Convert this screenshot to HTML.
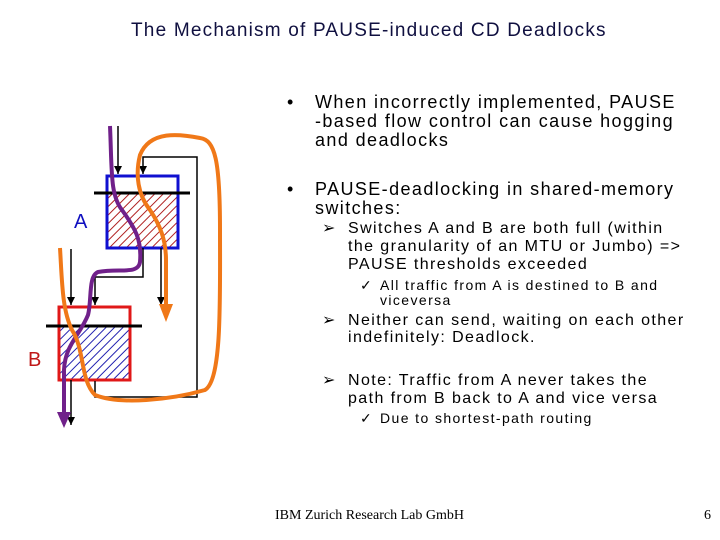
<!DOCTYPE html>
<html><head><style>
body{margin:0;width:720px;height:540px;background:#fff;position:relative;overflow:hidden;font-family:"Liberation Sans",sans-serif;}
.t{position:absolute;white-space:nowrap;color:#000;line-height:1;letter-spacing:1.4px;}
</style></head><body>
<div class="t" style="left:131px;top:21px;font-size:19px;color:#101040;letter-spacing:1.2px;">The Mechanism of PAUSE-induced CD Deadlocks</div>

<div class="t" style="left:287px;top:93px;font-size:18px;">•</div>
<div class="t" style="left:315px;top:93px;font-size:18px;">When incorrectly implemented, PAUSE</div>
<div class="t" style="left:315px;top:112px;font-size:18px;">-based flow control can cause hogging</div>
<div class="t" style="left:315px;top:131px;font-size:18px;">and deadlocks</div>

<div class="t" style="left:287px;top:180px;font-size:18px;">•</div>
<div class="t" style="left:315px;top:180px;font-size:18px;">PAUSE-deadlocking in shared-memory</div>
<div class="t" style="left:315px;top:199px;font-size:18px;">switches:</div>

<div class="t" style="left:322px;top:221px;font-size:16px;">➢</div>
<div class="t" style="left:348px;top:221px;font-size:16px;">Switches A and B are both full (within</div>
<div class="t" style="left:348px;top:239px;font-size:16px;">the granularity of an MTU or Jumbo) =&gt;</div>
<div class="t" style="left:348px;top:257px;font-size:16px;">PAUSE thresholds exceeded</div>

<div class="t" style="left:360px;top:278px;font-size:14px;">✓</div>
<div class="t" style="left:380px;top:278px;font-size:14px;">All traffic from A is destined to B and</div>
<div class="t" style="left:380px;top:293px;font-size:14px;">viceversa</div>

<div class="t" style="left:322px;top:313px;font-size:16px;">➢</div>
<div class="t" style="left:348px;top:313px;font-size:16px;">Neither can send, waiting on each other</div>
<div class="t" style="left:348px;top:330px;font-size:16px;">indefinitely: Deadlock.</div>

<div class="t" style="left:322px;top:373px;font-size:16px;">➢</div>
<div class="t" style="left:348px;top:373px;font-size:16px;">Note: Traffic from A never takes the</div>
<div class="t" style="left:348px;top:391px;font-size:16px;">path from B back to A and vice versa</div>
<div class="t" style="left:360px;top:411px;font-size:14px;">✓</div>
<div class="t" style="left:380px;top:411px;font-size:14px;">Due to shortest-path routing</div>

<div class="t" style="left:275px;top:509px;font-size:14px;letter-spacing:0;font-family:'Liberation Serif',serif;">IBM Zurich Research Lab GmbH</div>
<div class="t" style="left:704px;top:509px;font-size:14px;letter-spacing:0;font-family:'Liberation Serif',serif;">6</div>

<svg width="720" height="540" style="position:absolute;left:0;top:0">
<defs>
<pattern id="hr" width="6" height="6" patternUnits="userSpaceOnUse" patternTransform="rotate(45)"><rect width="6" height="6" fill="#fff"/><line x1="0" y1="0" x2="0" y2="6" stroke="#b02020" stroke-width="2"/></pattern>
<pattern id="hb" width="6" height="6" patternUnits="userSpaceOnUse" patternTransform="rotate(45)"><rect width="6" height="6" fill="#fff"/><line x1="0" y1="0" x2="0" y2="6" stroke="#2020b0" stroke-width="2"/></pattern>
<marker id="ab" markerWidth="8" markerHeight="8" refX="8" refY="4" orient="auto" markerUnits="userSpaceOnUse"><path d="M0,0 L8,4 L0,8 Z" fill="#000"/></marker>
</defs>
<rect x="107" y="193" width="71" height="55" fill="url(#hr)"/>
<rect x="107" y="176" width="71" height="72" fill="none" stroke="#1010d0" stroke-width="3"/>
<line x1="94" y1="193" x2="190" y2="193" stroke="#000" stroke-width="3"/>
<rect x="59" y="326" width="71" height="54" fill="url(#hb)"/>
<rect x="59" y="307" width="71" height="73" fill="none" stroke="#e01818" stroke-width="3"/>
<line x1="46" y1="326" x2="142" y2="326" stroke="#000" stroke-width="3"/>
<text x="74" y="228" font-size="20" fill="#1010c0" font-family="Liberation Sans">A</text>
<text x="28" y="366" font-size="20" fill="#c01818" font-family="Liberation Sans">B</text>
<g stroke="#000" stroke-width="1.5" fill="none">
<line x1="118" y1="126" x2="118" y2="174" marker-end="url(#ab)"/>
<polyline points="95,381 95,397 197,397 197,157 143,157 143,174" marker-end="url(#ab)"/>
<polyline points="143,248 143,277 95,277 95,305" marker-end="url(#ab)"/>
<line x1="161" y1="248" x2="161" y2="305" marker-end="url(#ab)"/>
<line x1="71" y1="249" x2="71" y2="305" marker-end="url(#ab)"/>
<line x1="71" y1="380" x2="71" y2="425" marker-end="url(#ab)"/>
</g>
<path d="M110,126 C112,170 110,195 122,210 C135,228 142,240 140,262 C138,275 120,268 98,272 C88,276 92,300 88,315 C80,335 65,345 64,370 L64,418" stroke="#70208a" stroke-width="4" fill="none"/>
<path d="M57,412 L64,428 L71,412 Z" fill="#70208a"/>
<path d="M60,248 C62,280 62,310 72,330 C85,350 80,380 95,395 C120,405 170,400 205,390 C222,380 220,300 220,230 C220,160 215,140 200,138 C180,134 150,130 140,155 C135,175 138,195 150,210 C160,225 166,240 166,260 L166,310" stroke="#f07818" stroke-width="4" fill="none"/>
<path d="M159,304 L166,322 L173,304 Z" fill="#f07818"/>
</svg>
</body></html>
